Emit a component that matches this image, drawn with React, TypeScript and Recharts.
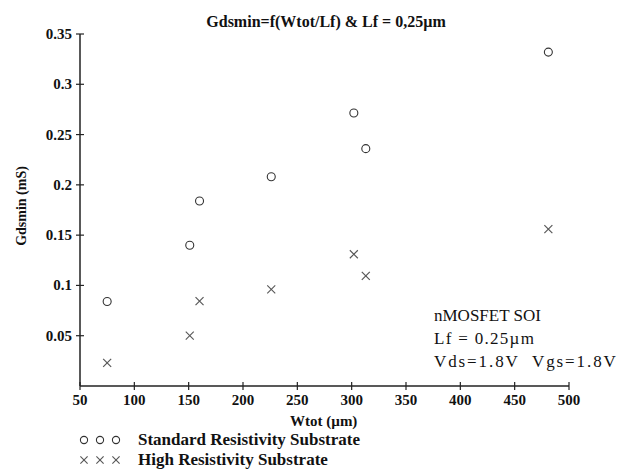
import { ScatterChart, Scatter, XAxis, YAxis, Legend } from "recharts";

const wtot = [75, 151, 160, 226, 302, 313, 481];
const standardGds = [0.084, 0.14, 0.184, 0.208, 0.2715, 0.236, 0.332];
const highGds = [0.023, 0.05, 0.0845, 0.096, 0.131, 0.1095, 0.156];
const xTicks = [50, 100, 150, 200, 250, 300, 350, 400, 450, 500];
const yTicks = [0.05, 0.1, 0.15, 0.2, 0.25, 0.3, 0.35];
const seriesNames = ["Standard Resistivity Substrate", "High Resistivity Substrate"];
const noteLines = ["nMOSFET SOI", "Lf = 0.25\u00b5m", "Vds=1.8V\u00a0\u00a0Vgs=1.8V"];

const standardData = wtot.map((x, i) => ({ x, y: standardGds[i] }));
const highData = wtot.map((x, i) => ({ x, y: highGds[i] }));

const FONT = "'Liberation Serif', 'Times New Roman', serif";
const INK = "#222";
// the original note text is set a little looser than Times
const noteSpacing = [0, 1.3, 1.9];

const Ring = ({ cx, cy, r = 4 }: any) => (
  <circle cx={cx} cy={cy} r={r} fill="none" stroke="#333" strokeWidth={1.1} />
);

const Cross = ({ cx, cy, s = 4 }: any) => (
  <g stroke="#555" strokeWidth={1.1}>
    <line x1={cx - s} y1={cy - s} x2={cx + s} y2={cy + s} />
    <line x1={cx - s} y1={cy + s} x2={cx + s} y2={cy - s} />
  </g>
);

const YTick = ({ x, y, payload }: any) => (
  <g>
    <line x1={x + 4} x2={x + 12} y1={y} y2={y} stroke={INK} strokeWidth={1.2} />
    <text x={x} y={y + 5} textAnchor="end" fontFamily={FONT} fontWeight="bold" fontSize={15} fill="#111">
      {String(payload.value)}
    </text>
  </g>
);

const XTick = ({ x, y, payload }: any) => (
  <g>
    <line x1={x} x2={x} y1={y - 4} y2={y + 4} stroke={INK} strokeWidth={1.2} />
    <text x={x} y={y + 19} textAnchor="middle" fontFamily={FONT} fontWeight="bold" fontSize={15} fill="#111">
      {String(payload.value)}
    </text>
  </g>
);

const renderLegend = () => (
  <div style={{ fontFamily: FONT }}>
    {seriesNames.map((name, i) => (
      <div key={name} style={{ display: "flex", alignItems: "center", height: 20 }}>
        <svg width={60} height={20}>
          {[14, 30, 46].map((sx) =>
            i === 0 ? <Ring key={sx} cx={sx} cy={10} r={3.6} /> : <Cross key={sx} cx={sx} cy={10} s={3.6} />
          )}
        </svg>
        <span style={{ marginLeft: 8, fontWeight: "bold", fontSize: 17, color: "#111" }}>{name}</span>
      </div>
    ))}
  </div>
);

export default function App() {
  return (
    <div style={{ position: "absolute", left: 0, top: 0, width: 636, height: 470, background: "#fff", fontFamily: FONT }}>
      <div
        style={{ position: "absolute", left: 0, width: 636, top: 13, textAlign: "center", paddingLeft: 16, boxSizing: "border-box", fontWeight: "bold", fontSize: 16, color: "#111" }}
      >
        Gdsmin=f(Wtot/Lf) &amp; Lf = 0,25µm
      </div>
      <ScatterChart width={636} height={470} margin={{ top: 34, right: 67, bottom: 54, left: 0 }}>
        <XAxis
          type="number"
          dataKey="x"
          domain={[50, 500]}
          ticks={xTicks}
          interval={0}
          height={30}
          tickSize={0}
          tickMargin={0}
          tickLine={false}
          axisLine={{ stroke: INK, strokeWidth: 1.5 }}
          tick={<XTick />}
        />
        <YAxis
          type="number"
          dataKey="y"
          domain={[0, 0.35]}
          ticks={yTicks}
          interval={0}
          width={80}
          tickSize={0}
          tickMargin={8}
          tickLine={false}
          axisLine={{ stroke: INK, strokeWidth: 1.5 }}
          tick={<YTick />}
        />
        <Legend
          layout="horizontal"
          verticalAlign="middle"
          align="center"
          content={renderLegend}
          wrapperStyle={{ left: 70, top: 430, width: 400 }}
        />
        <Scatter name={seriesNames[0]} data={standardData} shape={<Ring />} isAnimationActive={false} />
        <Scatter name={seriesNames[1]} data={highData} shape={<Cross />} isAnimationActive={false} />
      </ScatterChart>
      <div
        style={{ position: "absolute", left: 13, top: 206, transform: "translate(-50%, -50%) rotate(-90deg)", transformOrigin: "center", whiteSpace: "nowrap", fontWeight: "bold", fontSize: 14, color: "#111", marginLeft: 9 }}
      >
        Gdsmin (mS)
      </div>
      <div style={{ position: "absolute", left: 290, top: 413, fontWeight: "bold", fontSize: 15, color: "#111" }}>
        Wtot (µm)
      </div>
      <div style={{ position: "absolute", left: 434, top: 304, fontSize: 17, lineHeight: "23px", color: "#111" }}>
        {noteLines.map((t, i) => (
          <div key={t} style={{ letterSpacing: noteSpacing[i] }}>{t}</div>
        ))}
      </div>
    </div>
  );
}
